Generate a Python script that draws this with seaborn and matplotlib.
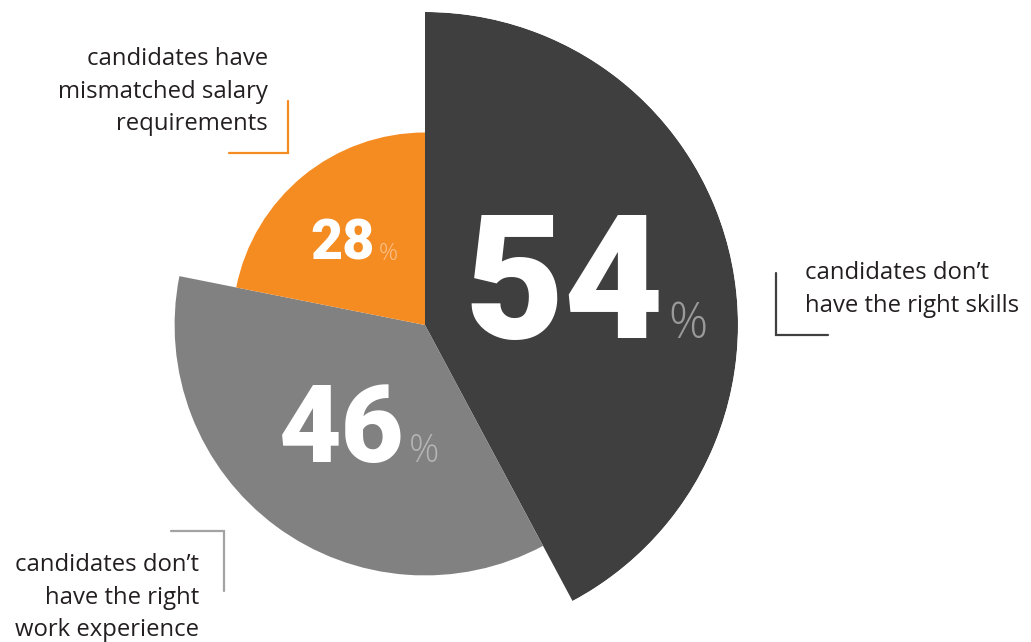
import numpy as np
import matplotlib
matplotlib.use("Agg")
import matplotlib.pyplot as plt
import seaborn as sns

# ── data ─────────────────────────────────────────────
categories = [
    "candidates don\u2019t\nhave the right skills",
    "candidates don\u2019t\nhave the right\nwork experience",
    "candidates have\nmismatched salary\nrequirements",
]
values = [54, 46, 28]            # percent of respondents
radius = [1.0, 0.80, 0.615]      # relative slice radius
colors = ["#3f3f3f", "#808180", "#f58c22"]
pct_colors = ["#9a9a9a", "#b4b4b4", "#fbc08a"]
bracket_colors = ["#404040", "#a3a3a3", "#f58c22"]

sns.set_theme(style="white")
plt.rcParams["font.family"] = ["Open Sans", "DejaVu Sans"]

W, H = 1031, 642
fig = plt.figure(figsize=(W / 100, H / 100), dpi=100)

# ── wedges as polar bars ─────────────────────────────
cx, cy, rpx = 425, 325, 313
pax = fig.add_axes([(cx - rpx) / W, (H - cy - rpx) / H, 2 * rpx / W, 2 * rpx / H],
                   projection="polar")
pax.set_theta_zero_location("N")
pax.set_theta_direction(-1)
total = sum(values)
widths = np.array(values) / total * 2 * np.pi
starts = np.concatenate([[0], np.cumsum(widths)[:-1]])
pax.bar(starts, radius, width=widths, align="edge", color=colors,
        edgecolor="none", linewidth=0)
pax.set_ylim(0, 1)
pax.axis("off")

# ── overlay for labels (pixel coords) ────────────────
ax = fig.add_axes([0, 0, 1, 1])
ax.set_xlim(0, W)
ax.set_ylim(H, 0)
ax.axis("off")

num_font = ["Roboto", "DejaVu Sans"]
# big numbers: (right edge, baseline, size) and % size
num_pos = [(664, 338, 124, 35), (405, 462, 78, 27), (375, 260, 40, 17)]
for v, (xr, yb, s, ps), pc in zip(values, num_pos, pct_colors):
    ax.text(xr, yb, str(v), ha="right", va="baseline", color="white",
            fontsize=s, fontweight="black", family=num_font)
    ax.text(xr + 4, yb, "%", ha="left", va="baseline", color=pc,
            fontsize=ps, fontweight="light", family=["Open Sans", "DejaVu Sans"])

# category labels and brackets
label_pos = [(805, 279, "left"), (199, 571, "right"), (268, 65, "right")]
brackets = [
    ([776, 776, 828], [273, 335, 335]),
    ([171, 224, 224], [531, 531, 591]),
    ([229, 288, 288], [153, 153, 101]),
]
for lab, (x, y, ha), (bx, by), bc in zip(categories, label_pos, brackets, bracket_colors):
    for i, line in enumerate(lab.split("\n")):
        ax.text(x, y + i * 32.5, line, ha=ha, va="baseline", color="#231f20",
                fontsize=17.2)
    ax.plot(bx, by, color=bc, linewidth=1.6, solid_joinstyle="miter")

fig.savefig("out.png", dpi=100)
